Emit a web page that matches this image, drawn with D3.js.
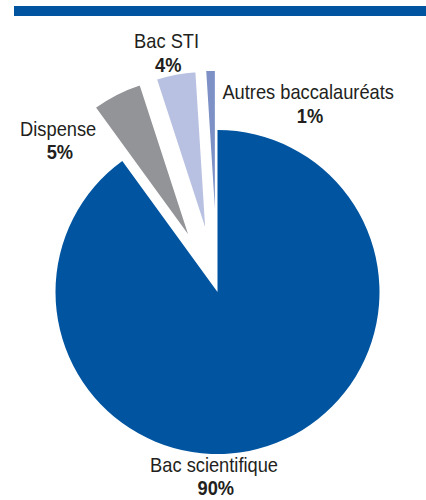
<!DOCTYPE html>
<html>
<head>
<meta charset="utf-8">
<script src="https://cdn.jsdelivr.net/npm/d3@7"></script>
<style>
  body { margin: 0; background: #fff; }
  text { font-family: "Liberation Sans", Arial, sans-serif; fill: #231f20; }
</style>
</head>
<body>
<script>
/* Data */
var categories = ["Bac scientifique", "Dispense", "Bac STI", "Autres baccalauréats"];
var values = [90, 5, 4, 1];
var valueLabels = ["90%", "5%", "4%", "1%"];

/* Layout: explode distance and label placement (angle in degrees, radius to first baseline) */
var colors = ["#0054a0", "#929497", "#b8c1e1", "#7d91c6"];
var explode = [0, 60, 60, 60];
var labelAngle = [181.1, 314.4, 348.2, 25.2];
var labelRadius = [180, 223, 249, 213];
var lineGap = 23.5;

var width = 426, height = 500,
    cx = 217.5, cy = 292, radius = 162;

var svg = d3.select("body").append("svg")
    .attr("width", width)
    .attr("height", height);

/* Blue rule at the top */
svg.append("rect")
    .attr("x", 14)
    .attr("y", 6)
    .attr("width", width - 14)
    .attr("height", 10)
    .attr("fill", "#0054a0");

var pie = d3.pie().sort(null).value(function(d) { return d; });
var arcs = pie(values);

var arc = d3.arc().innerRadius(0).outerRadius(radius);

var g = svg.append("g")
    .attr("transform", "translate(" + cx + "," + cy + ")");

g.selectAll(".slice")
    .data(arcs)
    .enter().append("path")
    .attr("class", "slice")
    .attr("d", arc)
    .attr("fill", function(d, i) { return colors[i]; })
    .attr("stroke", "#fff")
    .attr("stroke-width", function(d, i) { return i ? 1.5 : 0; })
    .attr("transform", function(d, i) {
        var a = (d.startAngle + d.endAngle) / 2;
        return "translate(" + (explode[i] * Math.sin(a)) + "," + (-explode[i] * Math.cos(a)) + ")";
    });

/* Labels: name on one line, bold percentage below (condensed look via scaleX) */
var label = g.selectAll(".label")
    .data(arcs)
    .enter().append("text")
    .attr("class", "label")
    .attr("text-anchor", "middle")
    .attr("transform", function(d, i) {
        var a = labelAngle[i] * Math.PI / 180;
        return "translate(" + (labelRadius[i] * Math.sin(a)) + "," + (-labelRadius[i] * Math.cos(a)) + ") scale(0.87,1)";
    })
    .style("font-size", "21px");

label.append("tspan")
    .attr("x", 0)
    .text(function(d, i) { return categories[i]; });

label.append("tspan")
    .attr("x", 2)
    .attr("dy", lineGap)
    .style("font-weight", "bold")
    .text(function(d, i) { return valueLabels[i]; });
</script>
</body>
</html>
